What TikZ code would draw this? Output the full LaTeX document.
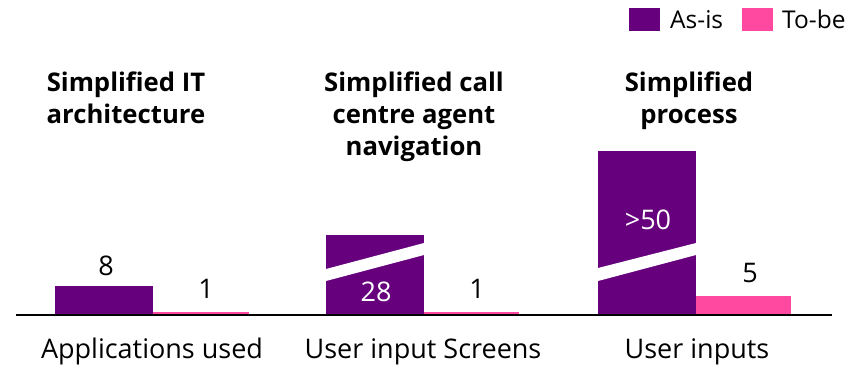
\documentclass[tikz,border=0pt]{standalone}
\usepackage{fontspec}
\setmainfont{Open Sans}
\definecolor{asispurple}{RGB}{102,0,125}
\definecolor{tobepink}{RGB}{255,73,160}

\begin{document}
\begin{tikzpicture}[x=1pt, y=-1pt,
  asis/.style={fill=asispurple},
  tobe/.style={fill=tobepink},
  brk/.style={fill=white},
  title/.style={font=\fontsize{25.7}{32}\selectfont\bfseries, align=center, anchor=base, inner sep=0pt},
  value/.style={font=\fontsize{27}{30}\selectfont, anchor=base, inner sep=0pt},
  cat/.style={font=\fontsize{27}{30}\selectfont, anchor=base, inner sep=0pt},
  legend/.style={font=\fontsize{24.5}{26}\selectfont, anchor=base west, inner sep=0pt}
]
\useasboundingbox (0,0) rectangle (864,365);

% legend
\fill[asis] (629,8) rectangle (660,31);
\node[legend] (asislbl) at (670,28) {As-is};
\fill[tobe] (742,8) rectangle (773,31);
\node[legend] (tobelbl) at (782,28) {To-be};

% titles (base = last line)
\node[title] (ittitle) at (126,123) {Simplified IT\\architecture};
\node[title] (calltitle) at (414,155) {Simplified call\\centre agent\\navigation};
\node[title] (proctitle) at (689,123) {Simplified\\process};

% bars
\fill[asis] (55,315) rectangle (153,286);
\fill[tobe] (153,315) rectangle (249,312);
\fill[asis] (326,315) rectangle (424,235);
\fill[brk] (326,269) -- (424,243) -- (424,255) -- (326,281) -- cycle;
\fill[tobe] (424,315) rectangle (519,312);
\fill[asis] (598,315) rectangle (696,151);
\fill[brk] (598,268) -- (696,243) -- (696,255) -- (598,281) -- cycle;
\fill[tobe] (696,315) rectangle (791,296);

% values
\node[value] (itasis) at (106,275) {8};
\node[value] (ittobe) at (206,298) {1};
\node[value, text=white] (callasis) at (376,301) {28};
\node[value] (calltobe) at (477,298) {1};
\node[value, text=white] (procasis) at (648,229) {>50};
\node[value] (proctobe) at (750,282) {5};

% axis
\draw[line width=2pt] (16,315) -- (832,315);

% categories
\node[cat] (itcat) at (152,358) {Applications used};
\node[cat] (callcat) at (423,358) {User input Screens};
\node[cat] (proccat) at (697,358) {User inputs};
\end{tikzpicture}
\end{document}
